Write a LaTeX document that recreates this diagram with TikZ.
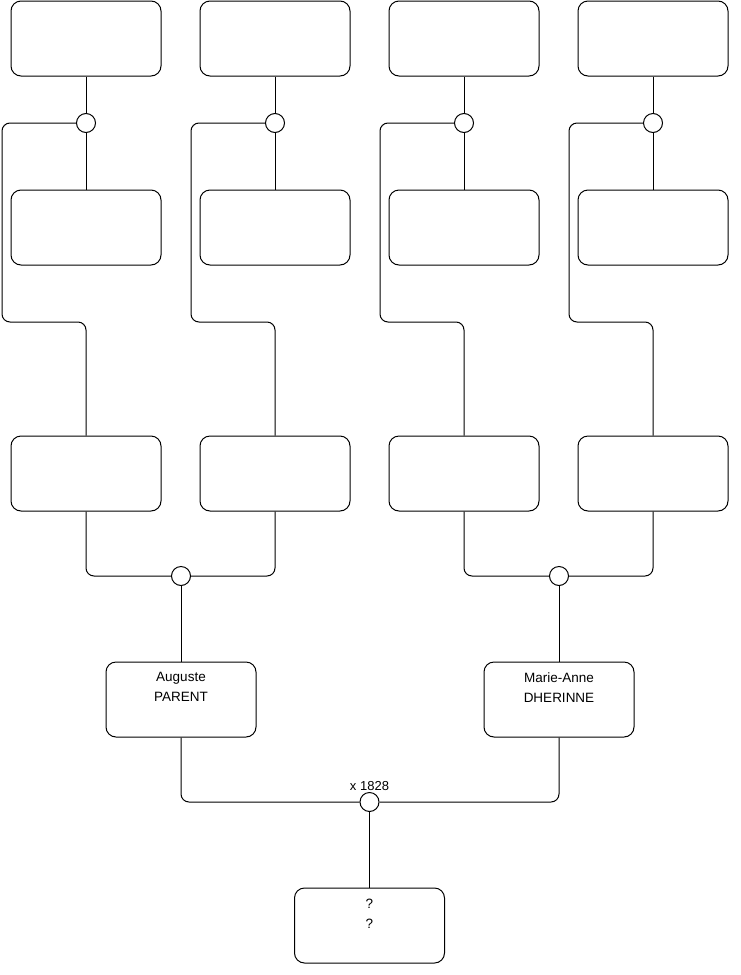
\documentclass[tikz,border=0pt]{standalone}
\usepackage{fontspec}
\setmainfont{Liberation Sans}
\usetikzlibrary{positioning}
\tikzset{
	box/.style={draw, rounded corners=10pt, minimum width=150pt, minimum height=75pt, line width=1pt},
	knot/.style={draw, circle, fill=white, minimum size=19pt, inner sep=0pt, line width=1pt},
	link/.style={line width=1pt, rounded corners=8pt},
	names/.style={anchor=north, align=center, inner sep=0pt, yshift=-11pt, font=\fontsize{13.5}{20}\selectfont},
	date/.style={font=\fontsize{13}{14}\selectfont, inner sep=1.5pt}
}

\begin{document}
\begin{tikzpicture}[x=1pt, y=-1pt]
	\useasboundingbox (0,0) rectangle (740,975);
	% ancetres : quatre colonnes
	\foreach \i/\x in {1/86,2/275,3/464,4/653}{
		\node[box] (t\i) at (\x,38.5) {};
		\node[box] (m\i) at (\x,227.5) {};
		\node[box] (g\i) at (\x,473.5) {};
		\node[knot] (c\i) at (\x,123) {};
		\draw[link] (t\i.south) -- (c\i.north);
		\draw[link] (c\i.south) -- (m\i.north);
		\draw[link] (c\i.west) -- ++(-74,0) -- ++(0,199) -| (g\i.north);
	}
	% grands-parents
	\node[knot] (k1) at (181,576) {};
	\node[knot] (k2) at (559,576) {};
	\draw[link] (g1.south) |- (k1.west);
	\draw[link] (g2.south) |- (k1.east);
	\draw[link] (g3.south) |- (k2.west);
	\draw[link] (g4.south) |- (k2.east);
	% parents
	\node[box, label={[names]north:{Auguste\\PARENT}}] (au) at (181,699.5) {};
	\node[box, label={[names]north:{Marie-Anne\\DHERINNE}}] (ma) at (559,699.5) {};
	\draw[link] (k1.south) -- (au.north);
	\draw[link] (k2.south) -- (ma.north);
	% mariage
	\node[knot, label={[date]above:x 1828}] (mar) at (369.5,802) {};
	\draw[link] (au.south) |- (mar.west);
	\draw[link] (ma.south) |- (mar.east);
	\node[box, label={[names]north:{?\\?}}] (kid) at (369.5,925.5) {};
	\draw[link] (mar.south) -- (kid.north);
\end{tikzpicture}
\end{document}
